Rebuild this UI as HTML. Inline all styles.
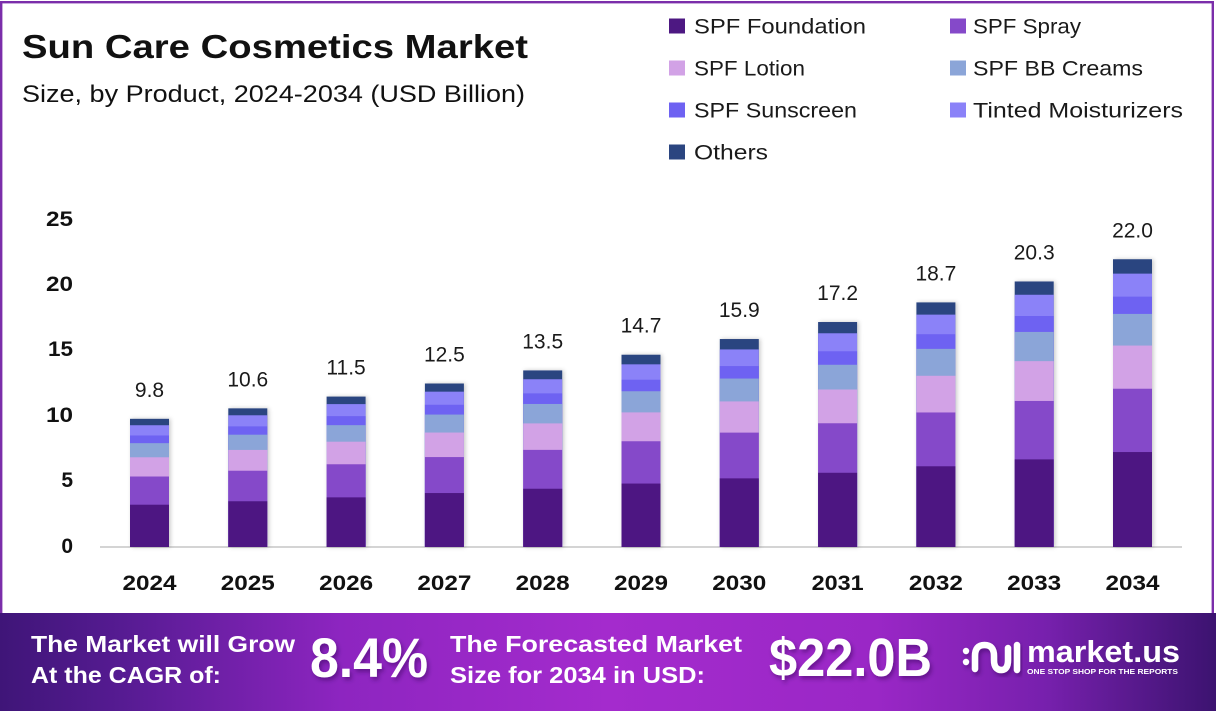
<!DOCTYPE html>
<html>
<head>
<meta charset="utf-8">
<style>
  html, body { margin: 0; padding: 0; background: #ffffff; }
  body { width: 1216px; height: 711px; overflow: hidden; }
  svg { display: block; }
  text { font-family: "Liberation Sans", "DejaVu Sans", sans-serif; }
</style>
</head>
<body>
<svg width="1216" height="711" viewBox="0 0 1216 711" xmlns="http://www.w3.org/2000/svg">
  <defs>
    <linearGradient id="foot" x1="0" y1="0" x2="1" y2="0">
      <stop offset="0" stop-color="#3f1578"/>
      <stop offset="0.1" stop-color="#561b92"/>
      <stop offset="0.28" stop-color="#8d25c0"/>
      <stop offset="0.5" stop-color="#a42bcd"/>
      <stop offset="0.72" stop-color="#9a27c6"/>
      <stop offset="0.86" stop-color="#7720ad"/>
      <stop offset="1" stop-color="#3c1370"/>
    </linearGradient>
    <filter id="sh" x="-30%" y="-10%" width="160%" height="120%">
      <feDropShadow dx="1.5" dy="0" stdDeviation="2" flood-color="#000" flood-opacity="0.22"/>
    </filter>
    <filter id="tsh" x="-10%" y="-20%" width="120%" height="150%">
      <feDropShadow dx="2" dy="3" stdDeviation="2" flood-color="#2a0050" flood-opacity="0.45"/>
    </filter>
  </defs>

  <!-- frame -->
  <rect x="0" y="0" width="1216" height="711" fill="#ffffff"/>
  <rect x="1.2" y="2.2" width="1211.6" height="620" fill="none" stroke="#7b2eaa" stroke-width="2.4"/>

  <!-- title -->
  <text x="22" y="58" font-size="33" font-weight="bold" fill="#111" textLength="506" lengthAdjust="spacingAndGlyphs">Sun Care Cosmetics Market</text>
  <text x="22" y="102" font-size="24" fill="#111" textLength="503" lengthAdjust="spacingAndGlyphs">Size, by Product, 2024-2034 (USD Billion)</text>

  <!-- legend -->
  <g font-size="21" fill="#1a1a1a">
    <rect x="669" y="18.5" width="16" height="15" fill="#4d1882"/>
    <text x="694" y="33.5" textLength="172" lengthAdjust="spacingAndGlyphs">SPF Foundation</text>
    <rect x="950" y="18.5" width="16" height="15" fill="#8549c9"/>
    <text x="973" y="33.5" textLength="108" lengthAdjust="spacingAndGlyphs">SPF Spray</text>

    <rect x="669" y="60.5" width="16" height="15" fill="#d2a2e6"/>
    <text x="694" y="75.5" textLength="111" lengthAdjust="spacingAndGlyphs">SPF Lotion</text>
    <rect x="950" y="60.5" width="16" height="15" fill="#8ba5d8"/>
    <text x="973" y="75.5" textLength="170" lengthAdjust="spacingAndGlyphs">SPF BB Creams</text>

    <rect x="669" y="102.5" width="16" height="15" fill="#6e62f2"/>
    <text x="694" y="117.5" textLength="163" lengthAdjust="spacingAndGlyphs">SPF Sunscreen</text>
    <rect x="950" y="102.5" width="16" height="15" fill="#8b82f8"/>
    <text x="973" y="117.5" textLength="210" lengthAdjust="spacingAndGlyphs">Tinted Moisturizers</text>

    <rect x="669" y="144.5" width="16" height="15" fill="#2b4580"/>
    <text x="694" y="159.5" textLength="74" lengthAdjust="spacingAndGlyphs">Others</text>
  </g>

  <!-- y axis labels -->
  <g font-size="21" font-weight="bold" fill="#111" text-anchor="end">
    <text x="73" y="226" textLength="27" lengthAdjust="spacingAndGlyphs">25</text>
    <text x="73" y="291" textLength="27" lengthAdjust="spacingAndGlyphs">20</text>
    <text x="73" y="356" textLength="25" lengthAdjust="spacingAndGlyphs">15</text>
    <text x="73" y="422" textLength="27" lengthAdjust="spacingAndGlyphs">10</text>
    <text x="73" y="487">5</text>
    <text x="73" y="553">0</text>
  </g>

  <!-- axis line -->
  <line x1="100" y1="547" x2="1182" y2="547" stroke="#d4d4d4" stroke-width="2"/>

  <!-- bars -->
  <g filter="url(#sh)">
    <g transform="translate(130,0)">
      <rect x="0" width="39" y="418.82" height="128.18" fill="#2b4580"/>
      <rect x="0" width="39" y="425.23" height="121.77" fill="#8b82f8"/>
      <rect x="0" width="39" y="435.48" height="111.52" fill="#6e62f2"/>
      <rect x="0" width="39" y="443.17" height="103.83" fill="#8ba5d8"/>
      <rect x="0" width="39" y="457.27" height="89.73" fill="#d2a2e6"/>
      <rect x="0" width="39" y="476.50" height="70.50" fill="#8549c9"/>
      <rect x="0" width="39" y="504.70" height="42.30" fill="#4d1882"/>
    </g>
    <g transform="translate(228.3,0)">
      <rect x="0" width="39" y="408.35" height="138.65" fill="#2b4580"/>
      <rect x="0" width="39" y="415.28" height="131.72" fill="#8b82f8"/>
      <rect x="0" width="39" y="426.37" height="120.63" fill="#6e62f2"/>
      <rect x="0" width="39" y="434.69" height="112.31" fill="#8ba5d8"/>
      <rect x="0" width="39" y="449.94" height="97.06" fill="#d2a2e6"/>
      <rect x="0" width="39" y="470.74" height="76.26" fill="#8549c9"/>
      <rect x="0" width="39" y="501.25" height="45.75" fill="#4d1882"/>
    </g>
    <g transform="translate(326.6,0)">
      <rect x="0" width="39" y="396.58" height="150.42" fill="#2b4580"/>
      <rect x="0" width="39" y="404.10" height="142.90" fill="#8b82f8"/>
      <rect x="0" width="39" y="416.13" height="130.87" fill="#6e62f2"/>
      <rect x="0" width="39" y="425.16" height="121.84" fill="#8ba5d8"/>
      <rect x="0" width="39" y="441.71" height="105.29" fill="#d2a2e6"/>
      <rect x="0" width="39" y="464.27" height="82.73" fill="#8549c9"/>
      <rect x="0" width="39" y="497.36" height="49.64" fill="#4d1882"/>
    </g>
    <g transform="translate(424.9,0)">
      <rect x="0" width="39" y="383.50" height="163.50" fill="#2b4580"/>
      <rect x="0" width="39" y="391.67" height="155.33" fill="#8b82f8"/>
      <rect x="0" width="39" y="404.75" height="142.25" fill="#6e62f2"/>
      <rect x="0" width="39" y="414.56" height="132.44" fill="#8ba5d8"/>
      <rect x="0" width="39" y="432.55" height="114.45" fill="#d2a2e6"/>
      <rect x="0" width="39" y="457.07" height="89.93" fill="#8549c9"/>
      <rect x="0" width="39" y="493.04" height="53.96" fill="#4d1882"/>
    </g>
    <g transform="translate(523.2,0)">
      <rect x="0" width="39" y="370.42" height="176.58" fill="#2b4580"/>
      <rect x="0" width="39" y="379.25" height="167.75" fill="#8b82f8"/>
      <rect x="0" width="39" y="393.38" height="153.62" fill="#6e62f2"/>
      <rect x="0" width="39" y="403.97" height="143.03" fill="#8ba5d8"/>
      <rect x="0" width="39" y="423.39" height="123.61" fill="#d2a2e6"/>
      <rect x="0" width="39" y="449.88" height="97.12" fill="#8549c9"/>
      <rect x="0" width="39" y="488.73" height="58.27" fill="#4d1882"/>
    </g>
    <g transform="translate(621.5,0)">
      <rect x="0" width="39" y="354.72" height="192.28" fill="#2b4580"/>
      <rect x="0" width="39" y="364.33" height="182.67" fill="#8b82f8"/>
      <rect x="0" width="39" y="379.72" height="167.28" fill="#6e62f2"/>
      <rect x="0" width="39" y="391.25" height="155.75" fill="#8ba5d8"/>
      <rect x="0" width="39" y="412.40" height="134.60" fill="#d2a2e6"/>
      <rect x="0" width="39" y="441.25" height="105.75" fill="#8549c9"/>
      <rect x="0" width="39" y="483.55" height="63.45" fill="#4d1882"/>
    </g>
    <g transform="translate(719.8,0)">
      <rect x="0" width="39" y="339.03" height="207.97" fill="#2b4580"/>
      <rect x="0" width="39" y="349.43" height="197.57" fill="#8b82f8"/>
      <rect x="0" width="39" y="366.07" height="180.93" fill="#6e62f2"/>
      <rect x="0" width="39" y="378.54" height="168.46" fill="#8ba5d8"/>
      <rect x="0" width="39" y="401.42" height="145.58" fill="#d2a2e6"/>
      <rect x="0" width="39" y="432.62" height="114.38" fill="#8549c9"/>
      <rect x="0" width="39" y="478.37" height="68.63" fill="#4d1882"/>
    </g>
    <g transform="translate(818.1,0)">
      <rect x="0" width="39" y="322.02" height="224.98" fill="#2b4580"/>
      <rect x="0" width="39" y="333.27" height="213.73" fill="#8b82f8"/>
      <rect x="0" width="39" y="351.27" height="195.73" fill="#6e62f2"/>
      <rect x="0" width="39" y="364.77" height="182.23" fill="#8ba5d8"/>
      <rect x="0" width="39" y="389.51" height="157.49" fill="#d2a2e6"/>
      <rect x="0" width="39" y="423.26" height="123.74" fill="#8549c9"/>
      <rect x="0" width="39" y="472.76" height="74.24" fill="#4d1882"/>
    </g>
    <g transform="translate(916.4,0)">
      <rect x="0" width="39" y="302.40" height="244.60" fill="#2b4580"/>
      <rect x="0" width="39" y="314.63" height="232.37" fill="#8b82f8"/>
      <rect x="0" width="39" y="334.20" height="212.80" fill="#6e62f2"/>
      <rect x="0" width="39" y="348.87" height="198.13" fill="#8ba5d8"/>
      <rect x="0" width="39" y="375.78" height="171.22" fill="#d2a2e6"/>
      <rect x="0" width="39" y="412.47" height="134.53" fill="#8549c9"/>
      <rect x="0" width="39" y="466.28" height="80.72" fill="#4d1882"/>
    </g>
    <g transform="translate(1014.7,0)">
      <rect x="0" width="39" y="281.48" height="265.52" fill="#2b4580"/>
      <rect x="0" width="39" y="294.76" height="252.24" fill="#8b82f8"/>
      <rect x="0" width="39" y="316.00" height="231.00" fill="#6e62f2"/>
      <rect x="0" width="39" y="331.93" height="215.07" fill="#8ba5d8"/>
      <rect x="0" width="39" y="361.14" height="185.86" fill="#d2a2e6"/>
      <rect x="0" width="39" y="400.96" height="146.04" fill="#8549c9"/>
      <rect x="0" width="39" y="459.38" height="87.62" fill="#4d1882"/>
    </g>
    <g transform="translate(1113,0)">
      <rect x="0" width="39" y="259.24" height="287.76" fill="#2b4580"/>
      <rect x="0" width="39" y="273.63" height="273.37" fill="#8b82f8"/>
      <rect x="0" width="39" y="296.65" height="250.35" fill="#6e62f2"/>
      <rect x="0" width="39" y="313.91" height="233.09" fill="#8ba5d8"/>
      <rect x="0" width="39" y="345.57" height="201.43" fill="#d2a2e6"/>
      <rect x="0" width="39" y="388.73" height="158.27" fill="#8549c9"/>
      <rect x="0" width="39" y="452.04" height="94.96" fill="#4d1882"/>
    </g>
  </g>

  <!-- value labels -->
  <g font-size="21" fill="#1a1a1a" text-anchor="middle">
    <text x="149.5" y="397">9.8</text>
    <text x="247.8" y="386.5">10.6</text>
    <text x="346.1" y="374.5">11.5</text>
    <text x="444.4" y="361.5">12.5</text>
    <text x="542.7" y="348.5">13.5</text>
    <text x="641" y="332.5">14.7</text>
    <text x="739.3" y="317">15.9</text>
    <text x="837.6" y="300">17.2</text>
    <text x="935.9" y="280.5">18.7</text>
    <text x="1034.2" y="259.5">20.3</text>
    <text x="1132.5" y="237.5">22.0</text>
  </g>

  <!-- year labels -->
  <g font-size="21" font-weight="bold" fill="#111" text-anchor="middle">
    <text x="149.5" y="590" textLength="54" lengthAdjust="spacingAndGlyphs">2024</text>
    <text x="247.8" y="590" textLength="54" lengthAdjust="spacingAndGlyphs">2025</text>
    <text x="346.1" y="590" textLength="54" lengthAdjust="spacingAndGlyphs">2026</text>
    <text x="444.4" y="590" textLength="54" lengthAdjust="spacingAndGlyphs">2027</text>
    <text x="542.7" y="590" textLength="54" lengthAdjust="spacingAndGlyphs">2028</text>
    <text x="641" y="590" textLength="54" lengthAdjust="spacingAndGlyphs">2029</text>
    <text x="739.3" y="590" textLength="54" lengthAdjust="spacingAndGlyphs">2030</text>
    <text x="837.6" y="590" textLength="52" lengthAdjust="spacingAndGlyphs">2031</text>
    <text x="935.9" y="590" textLength="54" lengthAdjust="spacingAndGlyphs">2032</text>
    <text x="1034.2" y="590" textLength="54" lengthAdjust="spacingAndGlyphs">2033</text>
    <text x="1132.5" y="590" textLength="54" lengthAdjust="spacingAndGlyphs">2034</text>
  </g>

  <!-- footer -->
  <rect x="0" y="613" width="1216" height="98" fill="url(#foot)"/>
  <g fill="#ffffff" font-weight="bold">
    <text x="31" y="652" font-size="23" textLength="264" lengthAdjust="spacingAndGlyphs">The Market will Grow</text>
    <text x="31" y="683" font-size="23" textLength="190" lengthAdjust="spacingAndGlyphs">At the CAGR of:</text>
    <text x="310" y="677" font-size="56" textLength="118" lengthAdjust="spacingAndGlyphs" filter="url(#tsh)">8.4%</text>
    <text x="450" y="652" font-size="23" textLength="292" lengthAdjust="spacingAndGlyphs">The Forecasted Market</text>
    <text x="450" y="683" font-size="23" textLength="255" lengthAdjust="spacingAndGlyphs">Size for 2034 in USD:</text>
    <text x="769" y="676" font-size="54" textLength="163" lengthAdjust="spacingAndGlyphs" filter="url(#tsh)">$22.0B</text>
  </g>

  <!-- market.us logo -->
  <g filter="url(#tsh)">
    <g fill="none" stroke="#ffffff" stroke-width="6.5" stroke-linecap="round" stroke-linejoin="round">
      <path d="M975 669 L975 656 Q975 645 984.5 645 Q994 645 994 656 L994 660 Q994 670 1001.5 670 Q1008 670 1008 660 L1008 648"/>
      <line x1="1017" y1="645" x2="1017" y2="670"/>
    </g>
    <circle cx="966" cy="651" r="3.2" fill="#ffffff"/>
    <circle cx="966" cy="662" r="3.2" fill="#ffffff"/>
  </g>
  <text x="1027" y="662" font-size="31" font-weight="bold" fill="#ffffff" textLength="153" lengthAdjust="spacingAndGlyphs">market.us</text>
  <text x="1027" y="674" font-size="7.5" font-weight="bold" fill="#ffffff" textLength="151" lengthAdjust="spacingAndGlyphs">ONE STOP SHOP FOR THE REPORTS</text>
</svg>
</body>
</html>
